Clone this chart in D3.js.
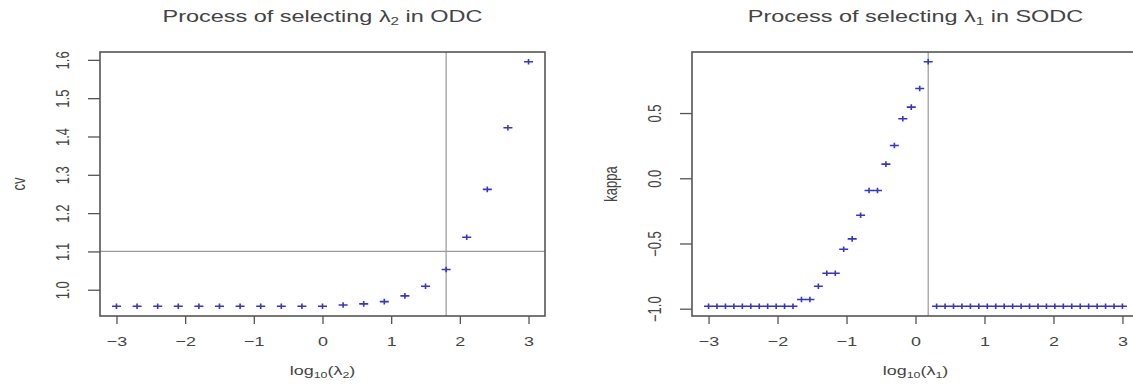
<!DOCTYPE html>
<html>
<head>
  <meta charset="utf-8">
  <title>Process of selecting lambda</title>
  <style>
    body { margin: 0; background: #fff; }
    svg text { font-family: "Liberation Sans", Arial, sans-serif; fill: #444; }
  </style>
  <script src="https://cdn.jsdelivr.net/npm/d3@7"></script>
</head>
<body>
<svg id="chart" width="1133" height="385"></svg>
<script>

// left panel: cv against log10(lambda2), ODC
var odcX = [-3, -2.7, -2.4, -2.1, -1.8, -1.5, -1.2, -0.9, -0.6, -0.3, 0,
            0.3, 0.6, 0.9, 1.2, 1.5, 1.8, 2.1, 2.4, 2.7, 3];
var odcCv = [0.957, 0.957, 0.957, 0.957, 0.957, 0.957, 0.957, 0.957, 0.957, 0.957, 0.957,
             0.960, 0.963, 0.969, 0.984, 1.009, 1.053, 1.137, 1.262, 1.423, 1.595];
var odcYTicks = [1.0, 1.1, 1.2, 1.3, 1.4, 1.5, 1.6];
var odcPickX = 1.8, odcPickY = 1.1;

// right panel: kappa against log10(lambda1), SODC
var sodcX = [-3.000, -2.878, -2.755, -2.633, -2.510, -2.388, -2.265, -2.143, -2.020, -1.898,
             -1.776, -1.653, -1.531, -1.408, -1.286, -1.163, -1.041, -0.918, -0.796, -0.673,
             -0.551, -0.429, -0.306, -0.184, -0.061, 0.061, 0.184, 0.306, 0.429, 0.551,
             0.673, 0.796, 0.918, 1.041, 1.163, 1.286, 1.408, 1.531, 1.653, 1.776,
             1.898, 2.020, 2.143, 2.265, 2.388, 2.510, 2.633, 2.755, 2.878, 3.000];
var sodcKappa = [-0.981, -0.981, -0.981, -0.981, -0.981, -0.981, -0.981, -0.981, -0.981, -0.981,
                 -0.981, -0.930, -0.930, -0.828, -0.728, -0.728, -0.544, -0.465, -0.283, -0.094,
                 -0.094, 0.108, 0.251, 0.456, 0.545, 0.688, 0.893, -0.981, -0.981, -0.981,
                 -0.981, -0.981, -0.981, -0.981, -0.981, -0.981, -0.981, -0.981, -0.981, -0.981,
                 -0.981, -0.981, -0.981, -0.981, -0.981, -0.981, -0.981, -0.981, -0.981, -0.981];
var sodcYTicks = [-1.0, -0.5, 0.0, 0.5];
var sodcPickX = 0.184;

var xTicks = [-3, -2, -1, 0, 1, 2, 3];

var svg = d3.select("#chart");
var sx = 1.38;   // the picture is stretched sideways
var plotTop = 52, plotBottom = 316;

function panel(o) {
  var g = svg.append("g");

  var x = d3.scaleLinear().domain([-3.24, 3.24]).range([o.left, o.right]);
  var ext = d3.extent(o.ys), pad = (ext[1] - ext[0]) * 0.04;
  var y = d3.scaleLinear().domain([ext[0] - pad, ext[1] + pad]).range([plotBottom, plotTop]);

  // x axis
  var xa = g.append("g")
    .attr("transform", "translate(0," + plotBottom + ")")
    .call(d3.axisBottom(x).tickValues(xTicks).tickSize(8).tickFormat(d3.format("d")));
  xa.select(".domain").remove();
  xa.selectAll(".tick line").attr("stroke", "#555").attr("stroke-width", 1.3);
  xa.selectAll(".tick text")
    .attr("y", null).attr("dy", null)
    .attr("transform", "translate(0,30) scale(" + sx + ",1)")
    .attr("font-size", 13).attr("fill", "#444");

  // y axis
  var ya = g.append("g")
    .attr("transform", "translate(" + o.left + ",0)")
    .call(d3.axisLeft(y).tickValues(o.yTicks).tickSize(12).tickFormat(d3.format(".1f")));
  ya.select(".domain").remove();
  ya.selectAll(".tick line").attr("stroke", "#555").attr("stroke-width", 1.3);
  ya.selectAll(".tick text")
    .attr("x", null).attr("dy", null)
    .attr("text-anchor", "middle")
    .attr("transform", "translate(-31,0) scale(" + sx + ",1) rotate(-90)")
    .attr("font-size", 13).attr("fill", "#444");

  // selection lines
  g.append("line")
    .attr("x1", x(o.pickX)).attr("x2", x(o.pickX))
    .attr("y1", plotTop).attr("y2", plotBottom)
    .attr("stroke", "#999").attr("stroke-width", 1.2);
  if (o.pickY != null) {
    g.append("line")
      .attr("x1", o.left).attr("x2", o.right)
      .attr("y1", y(o.pickY)).attr("y2", y(o.pickY))
      .attr("stroke", "#999").attr("stroke-width", 1.2);
  }

  // points, pch = "+"
  g.selectAll("path.pt")
    .data(o.xs.map(function(d, i) { return [d, o.ys[i]]; }))
    .enter().append("path")
    .attr("class", "pt")
    .attr("transform", function(d) { return "translate(" + x(d[0]) + "," + y(d[1]) + ")"; })
    .attr("d", "M-4.5,0H4.5M0,-2.8V2.8")
    .attr("stroke", "#3434d0").attr("stroke-width", 1.6);

  // box
  g.append("rect")
    .attr("x", o.left).attr("y", plotTop)
    .attr("width", o.right - o.left).attr("height", plotBottom - plotTop)
    .attr("fill", "none").attr("stroke", "#555").attr("stroke-width", 1.6);

  var cx = (o.left + o.right) / 2;

  // title
  var t = g.append("text")
    .attr("transform", "translate(" + cx + ",22) scale(" + sx + ",1)")
    .attr("text-anchor", "middle").attr("font-size", 17)
    .attr("fill", "#444");
  t.append("tspan").text("Process of selecting \u03bb");
  t.append("tspan").attr("font-size", 11).attr("dy", 3).text(o.sub);
  t.append("tspan").attr("dy", -3).text(" in " + o.method);

  // x label
  var xl = g.append("text")
    .attr("transform", "translate(" + cx + ",375) scale(" + sx + ",1)")
    .attr("text-anchor", "middle").attr("font-size", 13).attr("fill", "#444");
  xl.append("tspan").text("log");
  xl.append("tspan").attr("font-size", 9).attr("dy", 3).text("10");
  xl.append("tspan").attr("dy", -3).text("(\u03bb");
  xl.append("tspan").attr("font-size", 9).attr("dy", 3).text(o.sub);
  xl.append("tspan").attr("dy", -3).text(")");

  // y label
  g.append("text")
    .attr("transform", "translate(" + (o.left - 75) + "," + ((plotTop + plotBottom) / 2) + ") scale(" + sx + ",1) rotate(-90)")
    .attr("text-anchor", "middle").attr("font-size", 13).attr("fill", "#444")
    .text(o.ylab);
}

panel({left: 100, right: 545, xs: odcX, ys: odcCv, yTicks: odcYTicks,
       pickX: odcPickX, pickY: odcPickY, sub: "2", method: "ODC", ylab: "cv"});
panel({left: 692, right: 1139, xs: sodcX, ys: sodcKappa, yTicks: sodcYTicks,
       pickX: sodcPickX, pickY: null, sub: "1", method: "SODC", ylab: "kappa"});

</script>
</body>
</html>
